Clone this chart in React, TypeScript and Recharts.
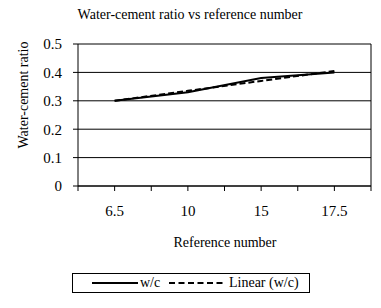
import React from 'react';
import {
  LineChart,
  Line,
  XAxis,
  YAxis,
  CartesianGrid,
  ReferenceLine,
} from 'recharts';

// reference numbers on the category axis
const categories = ['6.5', '10', '15', '17.5'];
// measured water-cement ratio
const wcValues = [0.3, 0.33, 0.38, 0.4];
// linear trendline of w/c
const trendValues = [0.3, 0.335, 0.37, 0.405];
const yTicks = [0, 0.1, 0.2, 0.3, 0.4, 0.5];
const xTicks = [0.5, 1, 1.5, 2, 2.5, 3, 3.5, 4, 4.5];

const FONT = '"Liberation Serif", "Times New Roman", serif';

export default function App() {
  const data = categories.map((name, i) => ({
    idx: i + 1,
    name,
    wc: wcValues[i],
    trend: trendValues[i],
  }));

  const xLabel = (v: number) => {
    const i = Math.round(v) - 1;
    return Number.isInteger(v) && categories[i] ? categories[i] : '';
  };

  return (
    <div
      style={{
        position: 'absolute',
        left: 0,
        top: 0,
        width: 381,
        height: 308,
        background: '#fff',
        fontFamily: FONT,
        color: '#000',
      }}
    >
      {/* Title */}
      <div
        style={{
          position: 'absolute',
          left: 190,
          top: 15,
          fontSize: 14,
          whiteSpace: 'nowrap',
          transform: 'translate(-50%, -50%)',
        }}
      >
        Water-cement ratio vs reference number
      </div>

      {/* Y axis title */}
      <div
        style={{
          position: 'absolute',
          left: 24,
          top: 95,
          fontSize: 14,
          whiteSpace: 'nowrap',
          transform: 'translate(-50%, -50%) rotate(-90deg)',
        }}
      >
        Water-cement ratio
      </div>

      <LineChart
        width={381}
        height={308}
        data={data}
        margin={{ top: 44, right: 10, left: 0, bottom: 72 }}
        style={{ position: 'absolute', left: 0, top: 0 }}
      >
        <CartesianGrid horizontal vertical={false} stroke="#000" strokeWidth={1} />
        <XAxis
          dataKey="idx"
          type="number"
          domain={[0.5, 4.5]}
          ticks={xTicks}
          interval={0}
          tickFormatter={xLabel}
          height={50}
          tickSize={5}
          tickMargin={14}
          axisLine={{ stroke: '#000' }}
          tickLine={{ stroke: '#000' }}
          tick={{ fill: '#000', fontSize: 15, fontFamily: FONT }}
        />
        <YAxis
          domain={[0, 0.5]}
          ticks={yTicks}
          interval={0}
          width={78}
          tickSize={5}
          tickMargin={11}
          axisLine={{ stroke: '#000' }}
          tickLine={{ stroke: '#000' }}
          tick={{ fill: '#000', fontSize: 15, fontFamily: FONT }}
        />
        <ReferenceLine x={4.5} stroke="#000" />
        <Line
          dataKey="trend"
          stroke="#000"
          strokeWidth={2}
          strokeDasharray="6 3"
          dot={false}
          isAnimationActive={false}
        />
        <Line
          dataKey="wc"
          stroke="#000"
          strokeWidth={2}
          dot={false}
          isAnimationActive={false}
        />
      </LineChart>

      {/* X axis title */}
      <div
        style={{
          position: 'absolute',
          left: 225,
          top: 243,
          fontSize: 14,
          whiteSpace: 'nowrap',
          transform: 'translate(-50%, -50%)',
        }}
      >
        Reference number
      </div>

      {/* Legend */}
      <div
        style={{
          position: 'absolute',
          left: 72,
          top: 273,
          width: 236,
          height: 18,
          border: '1px solid #000',
          fontSize: 14,
        }}
      >
        <svg width={236} height={18} style={{ position: 'absolute', left: 0, top: 0 }}>
          <line x1={19} x2={65} y1={9} y2={9} stroke="#000" strokeWidth={2} />
          <line x1={96} x2={153} y1={9} y2={9} stroke="#000" strokeWidth={2} strokeDasharray="6 3.5" />
        </svg>
        <span style={{ position: 'absolute', left: 67, top: 0, lineHeight: '18px' }}>w/c</span>
        <span style={{ position: 'absolute', left: 156, top: 0, lineHeight: '18px' }}>Linear (w/c)</span>
      </div>
    </div>
  );
}
